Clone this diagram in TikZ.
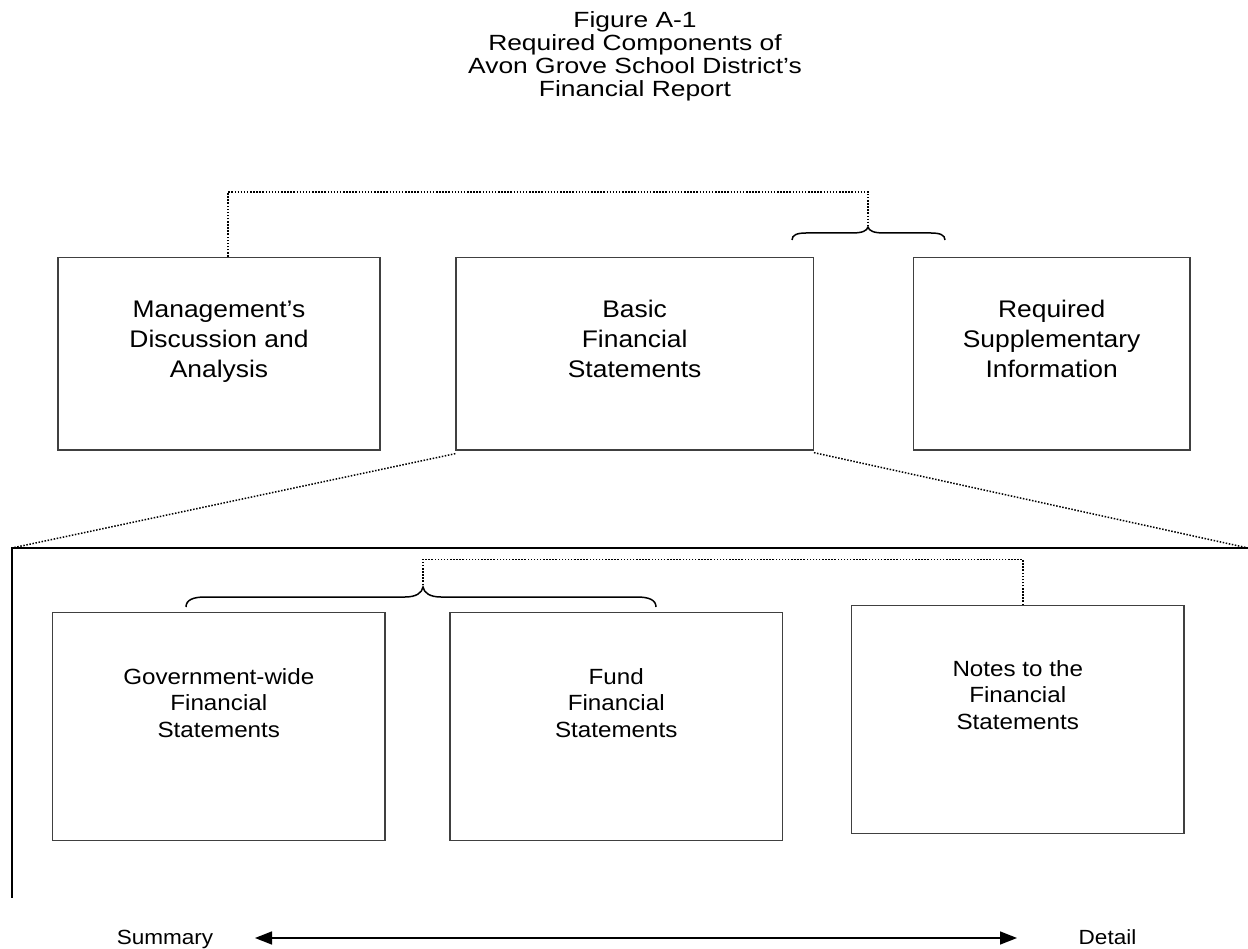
\documentclass[tikz,border=0pt]{standalone}
\usepackage{fontspec}
\setmainfont{Liberation Sans}
\newfontfamily\titlefont[FakeStretch=1.2]{Liberation Sans}
\newfontfamily\boxfont[FakeStretch=1.1]{Liberation Sans}
\usetikzlibrary{arrows.meta}
\newcommand{\mlines}[1]{\begin{tabular}[t]{@{}c@{}}#1\end{tabular}}
\newcommand{\toplbl}{\boxfont\fontsize{24}{30}\selectfont}
\newcommand{\lowlbl}{\boxfont\fontsize{22}{26.5}\selectfont}
\newcommand{\axislbl}{\boxfont\fontsize{20.5}{24}\selectfont}
\begin{document}
\begin{tikzpicture}[x=1pt,y=-1pt,
  box/.style={draw=black!75, line width=1.3pt, inner sep=0pt, rectangle},
  lbl/.style={inner sep=0pt, anchor=base},
  dotline/.style={line width=1.5pt, dash pattern=on 1.5pt off 1.6pt},
  solidline/.style={line width=1.5pt, black},
  bracestyle/.style={line width=1.5pt, black},
  biarrow/.style={line width=1.5pt, {Triangle[length=17pt,width=13pt]}-{Triangle[length=17pt,width=13pt]}}
]
\useasboundingbox (0,0) rectangle (1248,949);

% title
\node[lbl] (title) at (635,28) {\titlefont\fontsize{22}{23}\selectfont\mlines{Figure A-1\\Required Components of\\Avon Grove School District’s\\Financial Report}};

% top boxes
\node[box, minimum width=322pt, minimum height=192.7pt] (mda) at (219,353.65) {};
\node[box, minimum width=357.3pt, minimum height=192.7pt] (bfs) at (634.65,353.65) {};
\node[box, minimum width=276.7pt, minimum height=192.7pt] (rsi) at (1051.65,353.65) {};
\node[lbl, font=\toplbl] (mdat) at (219,318) {\mlines{Management’s\\Discussion and\\Analysis}};
\node[lbl, font=\toplbl] (bfst) at (634.65,318) {\mlines{Basic\\Financial\\Statements}};
\node[lbl, font=\toplbl] (rsit) at (1051.65,318) {\mlines{Required\\Supplementary\\Information}};

% lower boxes
\node[box, minimum width=332.4pt, minimum height=227.8pt] (gw) at (218.8,726.6) {};
\node[box, minimum width=332.5pt, minimum height=227.8pt] (fund) at (616.25,726.6) {};
\node[box, minimum width=332.5pt, minimum height=228pt] (notes) at (1017.75,719.7) {};
\node[lbl, font=\lowlbl] (gwt) at (218.8,684) {\mlines{Government-wide\\Financial\\Statements}};
\node[lbl, font=\lowlbl] (fundt) at (616.25,684) {\mlines{Fund\\Financial\\Statements}};
\node[lbl, font=\lowlbl] (notest) at (1017.75,676) {\mlines{Notes to the\\Financial\\Statements}};

% braces
\coordinate (ta) at (868,227);
\coordinate (tb) at (423,587);
\draw[bracestyle] (792,240) .. controls (792,235) and (797,233) .. (806,233) -- (852,233)
  .. controls (862,233) and (867,231) .. (ta)
  .. controls (869,231) and (874,233) .. (884,233) -- (931,233)
  .. controls (940,233) and (945,235) .. (945,240);
\draw[bracestyle] (186,607) .. controls (186,600) and (193,597) .. (205,597) -- (405,597)
  .. controls (416,597) and (422,593) .. (tb)
  .. controls (424,593) and (430,597) .. (441,597) -- (637,597)
  .. controls (649,597) and (656,600) .. (656,607);

% dotted connectors
\draw[dotline] ([xshift=9pt]mda.north) -- ++(0,-64.8) -| (ta);
\draw[dotline] ([xshift=5pt]notes.north) -- ++(0,-45.7) -| (tb);

\coordinate (lc) at (12,548);
\coordinate (rc) at (1248,548);
\coordinate (vb) at (12,898);
\draw[dotline] ([yshift=-3pt]bfs.south west) -- (lc);
\draw[dotline] ([yshift=-2pt]bfs.south east) -- (rc);
\draw[solidline] (rc) -- (lc) -- (vb);

% summary / detail axis
\node[lbl, font=\axislbl] (summary) at (165,944) {Summary};
\node[lbl, font=\axislbl] (detail) at (1107.5,944) {Detail};
\coordinate (arL) at (255,938);
\coordinate (arR) at (1017,938);
\draw[biarrow] (arL) -- (arR);
\end{tikzpicture}
\end{document}
